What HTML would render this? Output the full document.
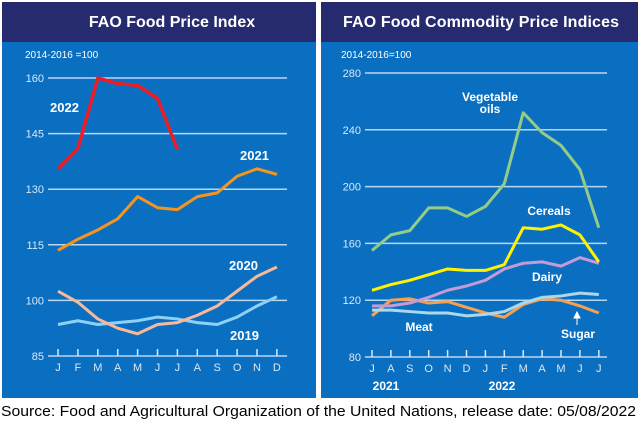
<!DOCTYPE html>
<html><head><meta charset="utf-8"><style>
body{margin:0;width:640px;height:420px;background:#fff;overflow:hidden;font-family:"Liberation Sans",sans-serif}
svg text{font-family:"Liberation Sans",sans-serif}
</style></head><body>
<svg id="s" width="640" height="420" xmlns="http://www.w3.org/2000/svg">
<rect x="2" y="2" width="314" height="396" fill="#0b6fc1"/>
<rect x="2" y="2" width="314" height="40" fill="#262a6f"/>
<rect x="321" y="2" width="317" height="396" fill="#0b6fc1"/>
<rect x="321" y="2" width="317" height="40" fill="#262a6f"/>
<text x="172" y="27" fill="#fff" font-size="16" font-weight="bold" text-anchor="middle">FAO Food Price Index</text>
<text x="481" y="27" fill="#fff" font-size="16" font-weight="bold" text-anchor="middle" textLength="276">FAO Food Commodity Price Indices</text>
<text x="25" y="58" fill="#fff" font-size="10">2014-2016 =100</text>
<text x="341" y="58" fill="#fff" font-size="10">2014-2016=100</text>
<g id="L"></g><g id="R"></g>
<text x="50" y="112" fill="#fff" font-size="13" font-weight="bold">2022</text>
<text x="240" y="160" fill="#fff" font-size="13" font-weight="bold">2021</text>
<text x="229" y="270" fill="#fff" font-size="13" font-weight="bold">2020</text>
<text x="230" y="340" fill="#fff" font-size="13" font-weight="bold">2019</text>
<text x="490" y="101" fill="#fff" font-size="12" font-weight="bold" text-anchor="middle">Vegetable</text>
<text x="490" y="113" fill="#fff" font-size="12" font-weight="bold" text-anchor="middle">oils</text>
<text x="549" y="215" fill="#fff" font-size="12" font-weight="bold" text-anchor="middle">Cereals</text>
<text x="547" y="281" fill="#fff" font-size="12" font-weight="bold" text-anchor="middle">Dairy</text>
<text x="419" y="331" fill="#fff" font-size="12" font-weight="bold" text-anchor="middle">Meat</text>
<text x="578" y="338" fill="#fff" font-size="12" font-weight="bold" text-anchor="middle">Sugar</text>
<path d="M577 325V314M574 318L577 312L580 318Z" stroke="#fff" fill="#fff" stroke-width="1"/>
<text x="386" y="390" fill="#fff" font-size="12" font-weight="bold" text-anchor="middle">2021</text>
<text x="502" y="390" fill="#fff" font-size="12" font-weight="bold" text-anchor="middle">2022</text>
<text x="1" y="416" fill="#000" font-size="15" textLength="635" lengthAdjust="spacingAndGlyphs">Source: Food and Agricultural Organization of the United Nations, release date: 05/08/2022</text>
</svg>
<script>
const leftMonths=["J","F","M","A","M","J","J","A","S","O","N","D"];
const leftTicks=[85,100,115,130,145,160];
const y2022=[135.5,141,160,158.5,158,154.5,140.7];
const y2021=[113.5,116.5,119,122,128,125,124.5,128,129,133.5,135.5,134];
const y2020=[102.5,99.5,95,92.5,91,93.5,94,96,98.5,102.5,106.5,109];
const y2019=[93.5,94.5,93.5,94,94.5,95.5,95,94,93.5,95.5,98.5,101];
const rightMonths=["J","A","S","O","N","D","J","F","M","A","M","J","J"];
const rightTicks=[80,120,160,200,240,280];
const vegOils=[155,166,169,185,185,179,186,202,252,238,229,212,171];
const cereals=[127,131,134,138,142,141,141,145,171,170,173,166,147];
const dairy=[116,116,118,122,127,130,134,142,146,147,144,150,146];
const meat=[113,113,112,111,111,109,110,112,118,122,123,125,124];
const sugar=[109,120,121,118,119,115,111,108,117,121,120,116,111];
const NS="http://www.w3.org/2000/svg";
function mk(p,t,a){const e=document.createElementNS(NS,t);for(const k in a)e.setAttribute(k,a[k]);p.appendChild(e);return e;}
function panel(g,o){
  const sy=v=>o.y0-(v-o.vmin)/(o.vmax-o.vmin)*(o.y0-o.y1);
  const sx=i=>o.x0+i*o.dx;
  o.ticks.forEach(t=>{
    const l=mk(g,'line',{x1:o.gx0,x2:o.gx1,y1:sy(t),y2:sy(t),stroke:'#b9d6f0','stroke-width':1.5});
    
    
    const tx=mk(g,'text',{x:o.gx0-4,y:sy(t)+4,fill:'#d8e8f7','font-size':11,'text-anchor':'end'});
    tx.textContent=t;
    
    
  });
  o.months.forEach((m,i)=>{
    const l=mk(g,'line',{x1:sx(i),x2:sx(i),y1:o.y0-7,y2:o.y0,stroke:'#d8e8f7','stroke-width':1.5});
    
    
    const tx=mk(g,'text',{x:sx(i),y:o.y0+15,fill:'#d8e8f7','font-size':11,'text-anchor':'middle'});
    tx.textContent=m;
    
    
  });
  o.series.forEach(s=>{
    const p=mk(g,'polyline',{points:s.d.map((v,i)=>sx(i)+','+sy(v)).join(' '),fill:'none',stroke:s.c,'stroke-width':s.w||3,'stroke-linejoin':'round'});
    
    
  });
}
panel(document.getElementById('L'),{vmin:85,vmax:160,y0:356,y1:78,x0:58,dx:19.9,gx0:48,gx1:287,ticks:leftTicks,months:leftMonths,
 series:[{n:'2019',d:y2019,c:'#8fd0f5'},{n:'2020',d:y2020,c:'#f8b99a'},{n:'2021',d:y2021,c:'#f7941d'},{n:'2022',d:y2022,c:'#ee1c25',w:3.5}]});
panel(document.getElementById('R'),{vmin:80,vmax:280,y0:357,y1:73,x0:372,dx:18.9,gx0:365,gx1:607,ticks:rightTicks,months:rightMonths,
 series:[{n:'vegetable-oils',d:vegOils,c:'#93cc86'},{n:'sugar',d:sugar,c:'#f7a150'},{n:'meat',d:meat,c:'#a9d8ef'},{n:'dairy',d:dairy,c:'#c49bd6'},{n:'cereals',d:cereals,c:'#fff200'}]});
</script>
</body></html>
